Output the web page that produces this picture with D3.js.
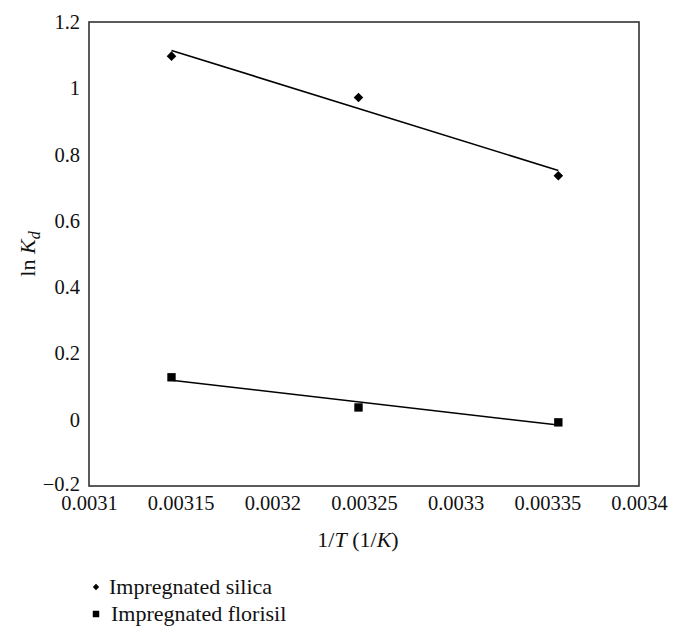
<!DOCTYPE html>
<html>
<head>
<meta charset="utf-8">
<script src="https://cdn.jsdelivr.net/npm/d3@7"></script>
<style>
  body { margin: 0; background: #fff; }
  svg text { font-family: "Liberation Serif", "DejaVu Serif", serif; fill: #111; }
</style>
</head>
<body>
<div class="chart"></div>
<script>
var WIDTH = 680;
var HEIGHT = 640;

// 1/T values (1/K)
var invT = [0.003145, 0.003247, 0.003356];
var silica = [1.097, 0.972, 0.736];
var florisil = [0.128, 0.037, -0.008];
var xTicks = [0.0031, 0.00315, 0.0032, 0.00325, 0.0033, 0.00335, 0.0034];
var yTicks = [-0.2, 0, 0.2, 0.4, 0.6, 0.8, 1, 1.2];
var seriesNames = ['Impregnated silica', 'Impregnated florisil'];

var plotL = 89, plotR = 639, plotT = 22, plotB = 486;

var x = d3.scaleLinear().domain([0.0031, 0.0034]).range([plotL, plotR]);
var y = d3.scaleLinear().domain([-0.2, 1.2]).range([plotB, plotT]);

var svg = d3.select('.chart')
  .append('svg')
  .attr('width', WIDTH)
  .attr('height', HEIGHT);

// least squares fit, like the spreadsheet trendline
var fit = function(xs, ys) {
  var mx = d3.mean(xs), my = d3.mean(ys);
  var sxy = d3.sum(xs, function(v, i) { return (v - mx) * (ys[i] - my); });
  var sxx = d3.sum(xs, function(v) { return (v - mx) * (v - mx); });
  var b = sxy / sxx;
  return function(v) { return my + b * (v - mx); };
};

var fmtX = function(d) { return String(+d.toFixed(5)); };
var fmtY = function(d) { return d < 0 ? '\u2212' + String(-d) : String(+d.toFixed(1)); };

var xAxis = svg.append('g')
  .attr('transform', 'translate(0,' + plotB + ')')
  .call(d3.axisBottom(x).tickValues(xTicks).tickSize(0).tickPadding(9).tickFormat(fmtX));
xAxis.select('.domain').remove();
xAxis.selectAll('text').style('font-size', '20.5px').attr('fill', '#111');

var yAxis = svg.append('g')
  .attr('transform', 'translate(' + plotL + ',0)')
  .call(d3.axisLeft(y).tickValues(yTicks).tickSize(0).tickPadding(9).tickFormat(fmtY));
yAxis.select('.domain').remove();
yAxis.selectAll('text').style('font-size', '20.5px').attr('fill', '#111');
// keep the bottom y label clear of the first x label
yAxis.selectAll('.tick').filter(function(d) { return d === -0.2; })
  .select('text').attr('dy', '0.2em');

// frame
svg.append('rect')
  .attr('x', plotL)
  .attr('y', plotT)
  .attr('width', plotR - plotL)
  .attr('height', plotB - plotT)
  .attr('fill', 'none')
  .attr('stroke', '#333')
  .attr('stroke-width', 1.6);

var series = [
  { name: seriesNames[0], values: silica, symbol: d3.symbolSquare, size: 46, rot: 45 },
  { name: seriesNames[1], values: florisil, symbol: d3.symbolSquare, size: 70, rot: 0 }
];

series.forEach(function(s) {
  var f = fit(invT, s.values);
  var ends = [d3.min(invT), d3.max(invT)];
  svg.append('line')
    .attr('x1', x(ends[0]))
    .attr('y1', y(f(ends[0])))
    .attr('x2', x(ends[1]))
    .attr('y2', y(f(ends[1])))
    .attr('stroke', '#000')
    .attr('stroke-width', 1.6);

  svg.selectAll(null)
    .data(s.values)
    .enter()
    .append('path')
    .attr('d', d3.symbol().type(s.symbol).size(s.size))
    .attr('transform', function(d, i) {
      return 'translate(' + x(invT[i]) + ',' + y(d) + ') rotate(' + s.rot + ')';
    })
    .attr('fill', '#000');
});

// axis titles
var xt = svg.append('text')
  .attr('x', 358)
  .attr('y', 547)
  .attr('text-anchor', 'middle')
  .style('font-size', '22px');
xt.append('tspan').text('1/');
xt.append('tspan').style('font-style', 'italic').text('T');
xt.append('tspan').text(' (1/');
xt.append('tspan').style('font-style', 'italic').text('K');
xt.append('tspan').text(')');

var yt = svg.append('text')
  .attr('transform', 'translate(35,' + (plotT + plotB) / 2 + ') rotate(-90)')
  .attr('text-anchor', 'middle')
  .style('font-size', '22px');
yt.append('tspan').text('ln ');
yt.append('tspan').style('font-style', 'italic').text('K');
yt.append('tspan').style('font-style', 'italic').style('font-size', '16px').attr('dy', 5).text('d');

// legend
var legend = svg.append('g');
series.forEach(function(s, i) {
  var ly = 587 + i * 27;
  legend.append('path')
    .attr('d', d3.symbol().type(s.symbol).size(i === 0 ? 20 : 42))
    .attr('transform', 'translate(96,' + ly + ') rotate(' + s.rot + ')')
    .attr('fill', '#000');
  legend.append('text')
    .attr('x', i === 0 ? 109 : 111)
    .attr('y', ly + 7)
    .style('font-size', '22px')
    .text(s.name);
});
</script>
</body>
</html>
